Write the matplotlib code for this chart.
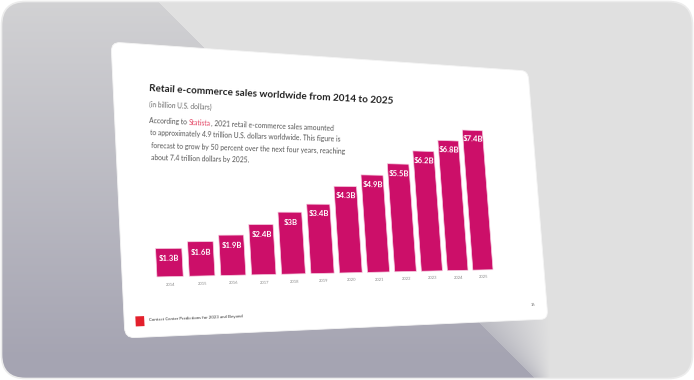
import numpy as np
import matplotlib
matplotlib.use("Agg")
import matplotlib.pyplot as plt
from matplotlib import transforms as mtransforms
from matplotlib.path import Path
from matplotlib.patches import FancyBboxPatch, Rectangle
from matplotlib.font_manager import FontProperties

# chart data
years = ['2014', '2015', '2016', '2017', '2018', '2019',
         '2020', '2021', '2022', '2023', '2024', '2025']
sales = [1.3, 1.6, 1.9, 2.4, 3.0, 3.4, 4.3, 4.9, 5.5, 6.2, 6.8, 7.4]
bar_labels = ['$1.3B', '$1.6B', '$1.9B', '$2.4B', '$3B', '$3.4B',
              '$4.3B', '$4.9B', '$5.5B', '$6.2B', '$6.8B', '$7.4B']

title = 'Retail e-commerce sales worldwide from 2014 to 2025'
subtitle = '(in billion U.S. dollars)'
para_first = ['According to ', 'Statista', ', 2021 retail e-commerce sales amounted']
para_rest = ['to approximately 4.9 trillion U.S. dollars worldwide. This figure is',
             'forecast to grow by 50 percent over the next four years, reaching',
             'about 7.4 trillion dollars by 2025.']
footer = 'Contact Center Predictions for 2023 and Beyond'
page_no = '16'

BAR = '#cc0f69'
FONT = 'Lato'

W, H = 694, 380
SW, SH = 16.0, 9.0  # slide units
# where the slide corners land on the picture (TL, TR, BR, BL), pixels
corners = [(111, 42), (528, 71), (548, 319), (125, 338)]


def homography(src, dst):
    A, b = [], []
    for (u, v), (x, y) in zip(src, dst):
        A.append([u, v, 1, 0, 0, 0, -u * x, -v * x]); b.append(x)
        A.append([0, 0, 0, u, v, 1, -u * y, -v * y]); b.append(y)
    h = np.linalg.solve(np.array(A, float), np.array(b, float))
    return np.append(h, 1).reshape(3, 3)


class Perspective(mtransforms.Transform):
    input_dims = 2
    output_dims = 2
    has_inverse = True

    def __init__(self, M):
        super().__init__()
        self.M = M

    def transform_non_affine(self, values):
        vals = np.asarray(values, float)
        flat = vals.reshape(-1, 2)
        p = flat @ self.M[:, :2].T + self.M[:, 2]
        out = p[:, :2] / p[:, 2:3]
        return out.reshape(vals.shape)

    def transform_path_non_affine(self, path):
        return Path(self.transform_non_affine(path.vertices), path.codes)

    def inverted(self):
        return Perspective(np.linalg.inv(self.M))


fig = plt.figure(figsize=(W / 100, H / 100), dpi=100)
fig.patch.set_facecolor('white')
ax = fig.add_axes([0, 0, 1, 1])
ax.set_xlim(0, W)
ax.set_ylim(H, 0)
ax.axis('off')

# --- background card with the soft diagonal shadow
yy, xx = np.mgrid[0:H, 0:W].astype(float) + 0.5
light = np.array([224, 224, 224], float)
t = np.clip(yy / 360.0, 0, 1)[..., None]
shade = np.array([210, 210, 212], float) * (1 - t) + np.array([165, 164, 178], float) * t
d = xx - yy
span = np.maximum(550 - yy - 157, 1.0)
t2 = np.clip((d - 157) / span, 0, 1)[..., None]
mid = np.array([186, 186, 194], float) * (1 - t2) + light * t2
bg = np.where((d < 157)[..., None], shade, mid)
bg = np.where(((d >= 157) & (yy < 300))[..., None], light, bg)
card = FancyBboxPatch((1.5, 1.5), W - 3, H - 3,
                      boxstyle='round,pad=0,rounding_size=24',
                      fc='none', ec='#ececec', lw=1.2, zorder=1)
ax.add_patch(card)
im = ax.imshow(bg.astype(np.uint8), extent=(0, W, H, 0), zorder=0,
               interpolation='bilinear')
im.set_clip_path(card)

# --- the slide, drawn in slide units through the perspective
M = homography([(0, 0), (SW, 0), (SW, SH), (0, SH)], corners)
T_slide = Perspective(M) + ax.transData

slide = FancyBboxPatch((0, 0), SW, SH, boxstyle='round,pad=0,rounding_size=0.3',
                       fc='white', ec='#f4f4f4', lw=0.6, transform=T_slide, zorder=2)
ax.add_patch(slide)

# bar chart area inside the slide: data (index, value) -> slide units
T_chart = mtransforms.Affine2D().scale(1.069, -0.665).translate(1.5525, 7.2) + T_slide

idx = np.arange(len(years))
ax.bar(idx, sales, width=0.81, color=BAR, edgecolor='#f6cfe1', linewidth=0.5,
       transform=T_chart, zorder=3)

txt = dict(transform_rotates_text=True, rotation=0, rotation_mode='anchor',
           family=FONT, zorder=4)
for i, (v, lab) in enumerate(zip(sales, bar_labels)):
    ax.text(i, v - 0.48, lab, transform=T_chart, ha='center', va='center',
            color='white', fontsize=5.6, fontweight='bold', **txt)
for i, yr in enumerate(years):
    ax.text(i, -0.37, yr, transform=T_chart, ha='center', va='center',
            color='#888888', fontsize=3.0, **txt)

# headings
ax.text(1.17, 1.37, title, transform=T_slide, ha='left', va='center',
        color='#222222', fontsize=7.2, fontweight='bold', **txt)
ax.text(1.14, 1.87, subtitle, transform=T_slide, ha='left', va='center',
        color='#6a6a6a', fontsize=4.8, **txt)

# paragraph, first line has the red "Statista"
renderer = fig.canvas.get_renderer()
fp = FontProperties(family=FONT, size=4.9)
T_inv = T_slide.inverted()


def advance(u, v, s):
    w_full = renderer.get_text_width_height_descent(s + 'S', fp, ismath=False)[0]
    w_s = renderer.get_text_width_height_descent('S', fp, ismath=False)[0]
    w = w_full - w_s
    p0 = T_slide.transform((u, v))
    ang = np.deg2rad(T_slide.transform_angles(np.array([0.0]), np.array([[u, v]]))[0])
    p1 = p0 + w * np.array([np.cos(ang), np.sin(ang)])
    return T_inv.transform(p1)


line_v = [2.40, 2.77, 3.15, 3.52]
u, v = 1.13, line_v[0]
for k, seg in enumerate(para_first):
    ax.text(u, v, seg, transform=T_slide, ha='left', va='center',
            color='#e3405f' if k == 1 else '#555555', fontsize=4.9, **txt)
    u, v = advance(u, v, seg)
for s, lv in zip(para_rest, line_v[1:]):
    ax.text(1.13, lv, s, transform=T_slide, ha='left', va='center',
            color='#555555', fontsize=4.9, **txt)

# footer
ax.add_patch(Rectangle((0.36, 8.37), 0.28, 0.3, fc='#e3202c', ec='none',
                       transform=T_slide, zorder=4))
ax.text(0.78, 8.5, footer, transform=T_slide, ha='left', va='center',
        color='#333333', fontsize=3.2, **txt)
ax.text(15.38, 8.48, page_no, transform=T_slide, ha='center', va='center',
        color='#777777', fontsize=3.0, **txt)

ax.set_xlim(0, W)
ax.set_ylim(H, 0)
fig.savefig('out.png', dpi=100)
